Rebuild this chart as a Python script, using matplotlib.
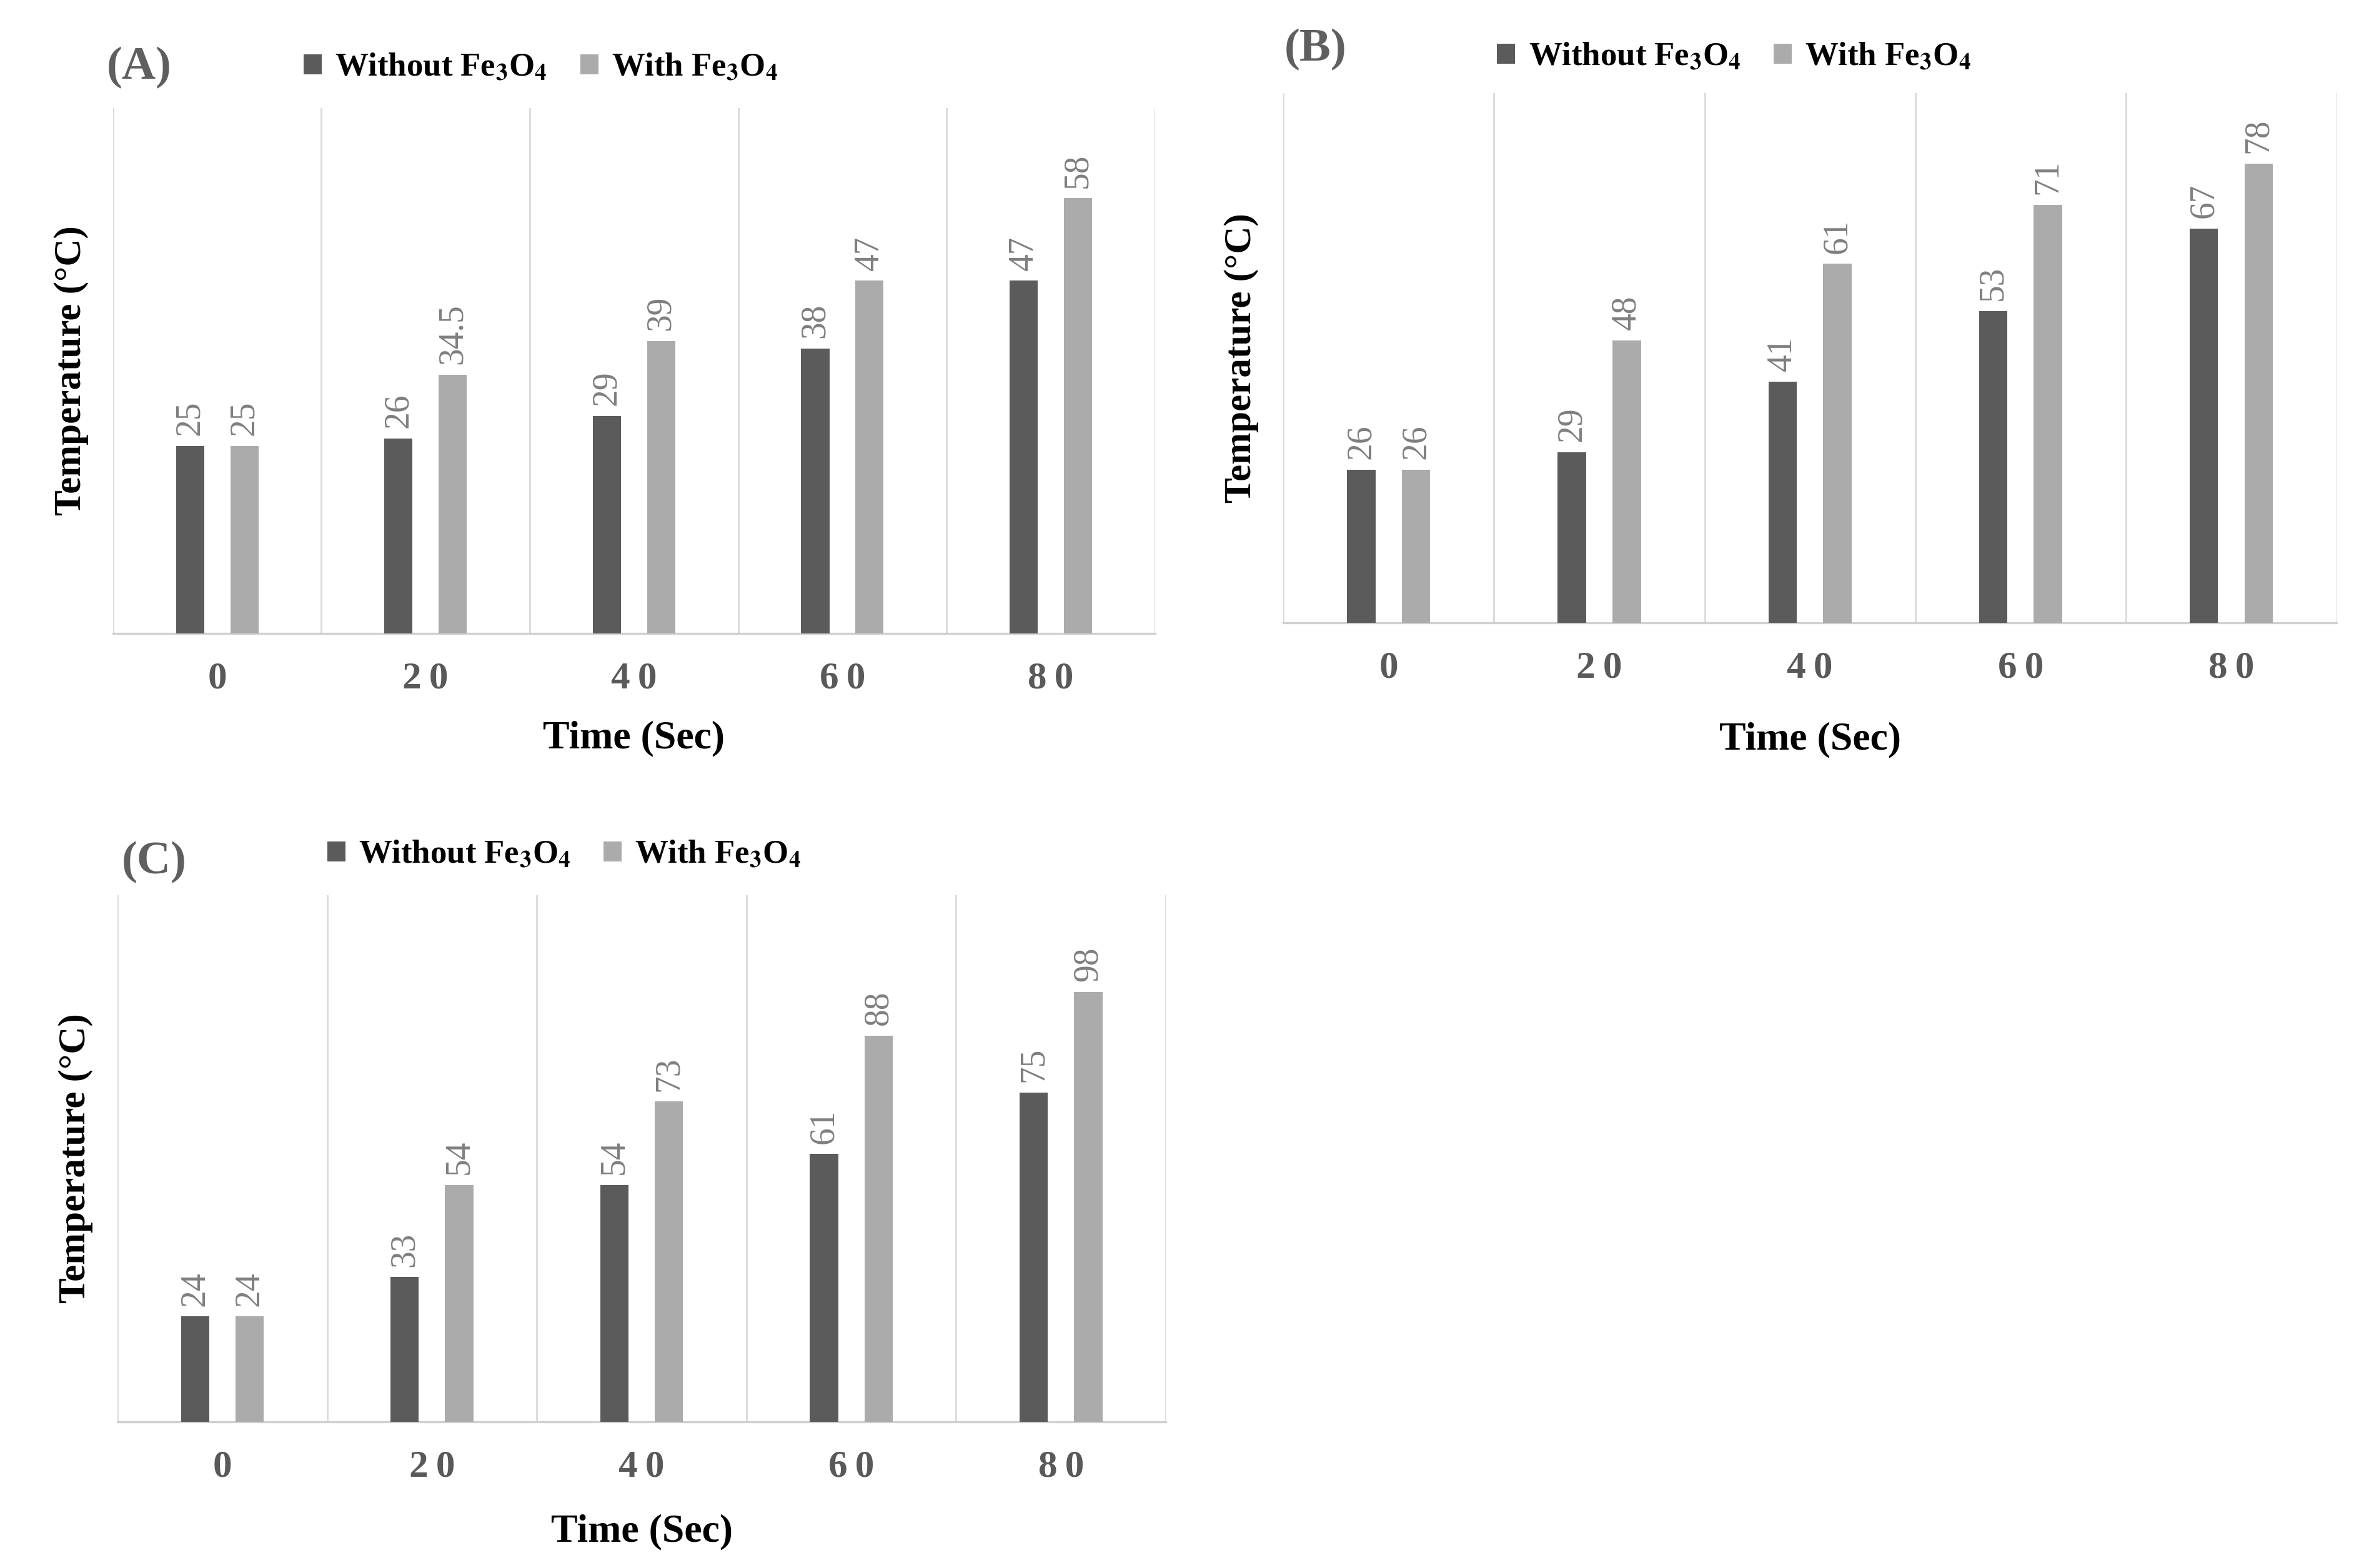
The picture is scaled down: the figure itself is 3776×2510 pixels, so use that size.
import matplotlib
matplotlib.use("Agg")
import matplotlib.pyplot as plt
import numpy as np

plt.rcParams['font.family'] = ['Liberation Serif', 'DejaVu Serif']
plt.rcParams['mathtext.fontset'] = 'stix'

# Data
times = ['0', '20', '40', '60', '80']
a_without = [25, 26, 29, 38, 47]
a_with = [25, 34.5, 39, 47, 58]
b_without = [26, 29, 41, 53, 67]
b_with = [26, 48, 61, 71, 78]
c_without = [24, 33, 54, 61, 75]
c_with = [24, 54, 73, 88, 98]

dark = '#5b5b5b'
light = '#ababab'
grid_col = '#d9d9d9'

fig = plt.figure(figsize=(18.88, 12.55), dpi=200)

# letter, series, ymax, axes rect, legend pos, letter pos, xlabel pad
panels = [
    ('(A)', a_without, a_with, 70, [0.0479, 0.596, 0.4417, 0.335], 0.183, 1.077, -0.006, 1.077, 14),
    ('(B)', b_without, b_with, 90, [0.544, 0.6028, 0.4465, 0.3378], 0.203, 1.068, 0.001, 1.082, 21),
    ('(C)', c_without, c_with, 120, [0.0498, 0.0932, 0.4444, 0.3359], 0.200, 1.077, 0.004, 1.063, 17),
]

x = np.arange(len(times))
w = 0.135
off = 0.13
# Excel-style letter spacing on the category labels
spaced = ['\u2009'.join(t) for t in times]

for letter, without, withv, ymax, rect, lx, ly, px, py, lpad in panels:
    ax = fig.add_axes(rect)
    b1 = ax.bar(x - off, without, w, color=dark, label='Without Fe$_\\mathbf{3}$O$_\\mathbf{4}$', zorder=3)
    b2 = ax.bar(x + off, withv, w, color=light, label='With Fe$_\\mathbf{3}$O$_\\mathbf{4}$', zorder=3)
    for bars, vals in [(b1, without), (b2, withv)]:
        for bar, v in zip(bars, vals):
            ax.annotate(f'{v:g}', (bar.get_x() + bar.get_width() / 2, v),
                        xytext=(0, 6), textcoords='offset points',
                        rotation=90, ha='center', va='bottom',
                        fontsize=20, color='#7f7f7f')
    ax.set_xlim(-0.5, len(times) - 0.5)
    ax.set_ylim(0, ymax)
    for g in np.arange(-0.5, len(times), 1.0):
        ax.axvline(g, color=grid_col, lw=1.0, zorder=1)
    ax.set_xticks(x)
    ax.set_xticklabels(spaced, fontsize=22, fontweight='bold', color='#595959')
    ax.tick_params(axis='x', length=0, pad=16)
    ax.set_yticks([])
    for s in ['top', 'left', 'right']:
        ax.spines[s].set_visible(False)
    ax.spines['bottom'].set_color('#d0d0d0')
    ax.spines['bottom'].set_linewidth(1.2)
    ax.set_xlabel('Time (Sec)', fontsize=23, fontweight='bold', labelpad=lpad)
    ax.set_ylabel('Temperature (°C)', fontsize=22, fontweight='bold', labelpad=14)
    ax.legend(loc='center left', bbox_to_anchor=(lx, ly), ncol=2, frameon=False,
              handlelength=0.55, handleheight=0.55, handletextpad=0.4, columnspacing=1.0,
              borderaxespad=0, borderpad=0,
              prop={'family': 'Liberation Serif', 'weight': 'bold', 'size': 19})
    ax.text(px, py, letter, transform=ax.transAxes, ha='left', va='center',
            fontsize=27, fontweight='bold', color='#5f5f5f')

fig.savefig('out.png', dpi=200, facecolor='white')
